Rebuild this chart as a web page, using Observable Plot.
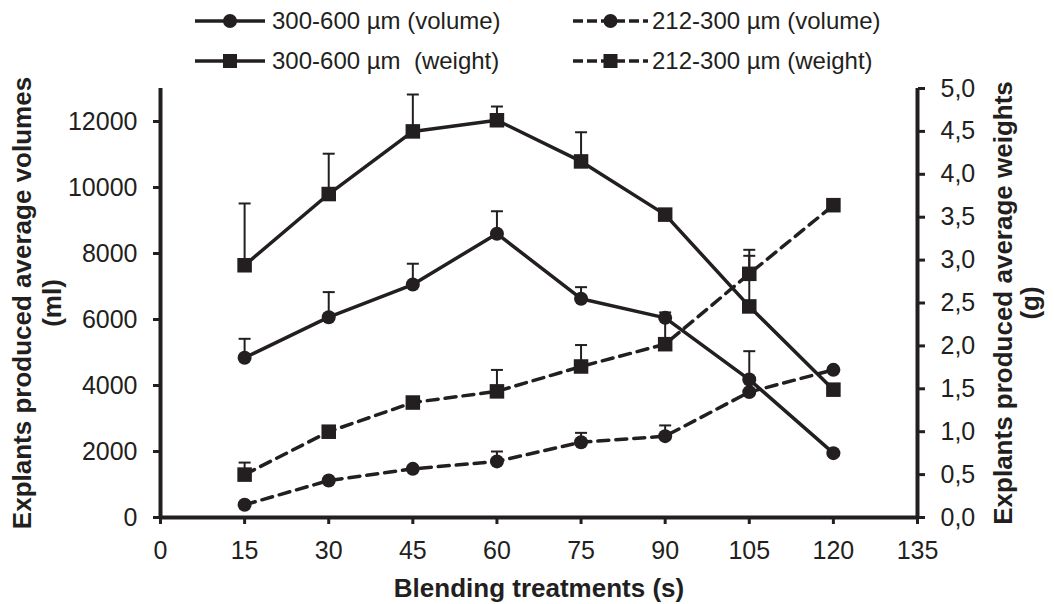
<!DOCTYPE html>
<html>
<head>
<meta charset="utf-8">
<script src="https://cdn.jsdelivr.net/npm/d3@7"></script>
<script src="https://cdn.jsdelivr.net/npm/@observablehq/plot@0.6"></script>
<style>
  body { margin: 0; background: #fff; }
  #wrap { width: 1054px; height: 604px; position: relative; overflow: hidden; }
  #legend { position: relative; width: 1054px; height: 80px; font: 24px "Liberation Sans", Arial, sans-serif; color: #231f20; }
  .item { position: absolute; height: 30px; display: flex; align-items: center; white-space: pre; }
  .item svg { display: block; }
  svg.plot { display: block; }
</style>
</head>
<body>
<div id="wrap">
  <div id="legend"></div>
  <div id="chart"></div>
</div>
<script>
// ---- data ----
const times = [15, 30, 45, 60, 75, 90, 105, 120];

const vol300_600    = [4840, 6070, 7060, 8600, 6630, 6050, 4180, 1950];
const vol300_600_sd = [575, 760, 630, 680, 350, null, 860, null];

const vol212_300    = [385, 1120, 1475, 1700, 2280, 2465, 3800, 4475];
const vol212_300_sd = [null, null, null, 300, 285, 325, null, null];

const wt300_600     = [2.94, 3.77, 4.50, 4.63, 4.15, 3.53, 2.46, 1.49];
const wt300_600_sd  = [0.72, 0.47, 0.43, 0.16, 0.34, null, 0.59, null];

const wt212_300     = [0.50, 1.00, 1.34, 1.47, 1.76, 2.02, 2.84, 3.64];
const wt212_300_sd  = [0.14, null, null, 0.25, 0.25, 0.37, 0.28, null];

const xTicks = [0, 15, 30, 45, 60, 75, 90, 105, 120, 135];
const volTicks = [0, 2000, 4000, 6000, 8000, 10000, 12000];
const wtTicks = [0, 0.5, 1, 1.5, 2, 2.5, 3, 3.5, 4, 4.5, 5];

const volMax = 13000, wtMax = 5;
const K = volMax / wtMax; // weight -> volume-scale factor for the right axis

const INK = "#231f20";
const FONT = '"Liberation Sans", Arial, sans-serif';

const series = [
  {label: "300-600 µm (volume)",  values: vol300_600, sd: vol300_600_sd, k: 1, dash: null,   symbol: "circle", col: 0, row: 0},
  {label: "212-300 µm (volume)",  values: vol212_300, sd: vol212_300_sd, k: 1, dash: "11,7", symbol: "circle", col: 1, row: 0},
  {label: "300-600 µm  (weight)", values: wt300_600,  sd: wt300_600_sd,  k: K, dash: null,   symbol: "square", col: 0, row: 1},
  {label: "212-300 µm (weight)",  values: wt212_300,  sd: wt212_300_sd,  k: K, dash: "11,7", symbol: "square", col: 1, row: 1}
];

const rows = series.flatMap(s => times.map((t, i) => ({
  s: s.label, x: t, y: s.values[i] * s.k,
  top: s.sd[i] == null ? null : (s.values[i] + s.sd[i]) * s.k
})));
const errRows = rows.filter(r => r.top != null);

const capSymbol = {
  draw(context) { context.moveTo(-6, 0); context.lineTo(6, 0); }
};

const marks = [];
// error bars (upper only)
marks.push(Plot.ruleX(errRows, {x: "x", y1: "y", y2: "top", stroke: INK, strokeWidth: 2}));
marks.push(Plot.dot(errRows, {x: "x", y: "top", symbol: capSymbol, stroke: INK, strokeWidth: 2, fill: "none"}));
// lines
for (const s of series) {
  marks.push(Plot.line(rows.filter(r => r.s === s.label), {
    x: "x", y: "y", stroke: INK, strokeWidth: 3.5, strokeDasharray: s.dash, strokeLinejoin: "miter"
  }));
}
// markers
for (const s of series) {
  marks.push(Plot.dot(rows.filter(r => r.s === s.label), {
    x: "x", y: "y", symbol: s.symbol, r: s.symbol === "circle" ? 7 : 8.2, fill: INK, stroke: "none"
  }));
}
// frame lines
marks.push(Plot.ruleX([0], {stroke: INK, strokeWidth: 4}));
marks.push(Plot.ruleX([135], {stroke: INK, strokeWidth: 4}));
marks.push(Plot.ruleY([0], {stroke: INK, strokeWidth: 4}));
// axes
marks.push(Plot.axisX({ticks: xTicks, tickSize: 7, tickPadding: 17, strokeWidth: 3, stroke: INK, fill: INK, label: null}));
marks.push(Plot.axisY({anchor: "left", ticks: volTicks, tickSize: 7, tickPadding: 16, strokeWidth: 3, stroke: INK, fill: INK,
  tickFormat: d => String(d), label: null}));
marks.push(Plot.axisY({anchor: "right", ticks: wtTicks.map(w => w * K), tickSize: 7, tickPadding: 16, strokeWidth: 3, stroke: INK, fill: INK,
  tickFormat: d => (d / K).toFixed(1).replace(".", ","), label: null}));
// axis titles
const titleOpts = {lineAnchor: "bottom", textAnchor: "middle", fontWeight: "bold", fontSize: 26, fill: INK};
marks.push(Plot.text(["Blending treatments (s)"], {...titleOpts, frameAnchor: "bottom", dy: 79}));
marks.push(Plot.text(["Explants produced average volumes"], {...titleOpts, frameAnchor: "left", dx: -130, rotate: -90}));
marks.push(Plot.text(["(ml)"], {...titleOpts, frameAnchor: "left", dx: -100, rotate: -90}));
marks.push(Plot.text(["Explants produced average weights"], {...titleOpts, frameAnchor: "right", dx: 94, rotate: -90}));
marks.push(Plot.text(["(g)"], {...titleOpts, frameAnchor: "right", dx: 121, rotate: -90}));

const chart = Plot.plot({
  width: 1054,
  height: 524,
  marginTop: 8,
  marginBottom: 87,
  marginLeft: 160,
  marginRight: 137,
  style: {fontFamily: FONT, fontSize: "25px", color: INK, background: "#fff", overflow: "visible"},
  x: {domain: [0, 135]},
  y: {domain: [0, volMax]},
  marks
});
document.getElementById("chart").appendChild(chart);

// ---- legend ----
const legend = document.getElementById("legend");
const colX = [{sample: 195, w: 70, text: 272}, {sample: 573, w: 75, text: 652}];
const rowY = [21, 61];
for (const s of series) {
  const c = colX[s.col], cy = rowY[s.row];
  const mid = c.w / 2;
  const marker = s.symbol === "circle"
    ? `<circle cx="${mid}" cy="10" r="7" fill="${INK}"/>`
    : `<rect x="${mid - 7}" y="3" width="14" height="14" fill="${INK}"/>`;
  const sample = document.createElement("div");
  sample.className = "item";
  sample.style.left = c.sample + "px";
  sample.style.top = (cy - 15) + "px";
  sample.innerHTML = `<svg width="${c.w}" height="20"><line x1="0" y1="10" x2="${c.w}" y2="10" stroke="${INK}" stroke-width="3.5" ${s.dash ? 'stroke-dasharray="10,4"' : ""}/>${marker}</svg>`;
  legend.appendChild(sample);
  const txt = document.createElement("div");
  txt.className = "item";
  txt.style.left = c.text + "px";
  txt.style.top = (cy - 15) + "px";
  txt.textContent = s.label;
  legend.appendChild(txt);
}
</script>
</body>
</html>
